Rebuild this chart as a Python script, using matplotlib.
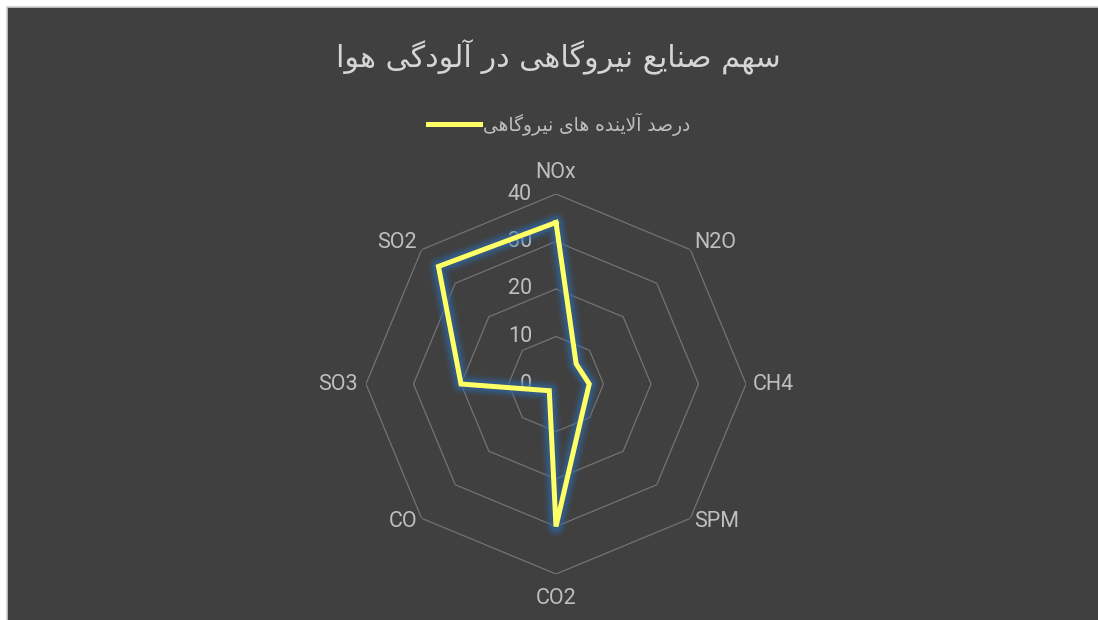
import numpy as np
import matplotlib
matplotlib.use("Agg")
import matplotlib.pyplot as plt
from matplotlib.patches import Rectangle
from matplotlib.lines import Line2D
from matplotlib.transforms import offset_copy

# ---- data -------------------------------------------------------------
categories = ["NOx", "N2O", "CH4", "SPM", "CO2", "CO", "SO3", "SO2"]
values = [34, 6, 7, 8, 30, 2, 20, 35]
ring_levels = [10, 20, 30, 40]
tick_labels = ["0", "10", "20", "30", "40"]
title_text = "سهم صنایع نیروگاهی در آلودگی هوا"
series_name = "درصد آلاینده های نیروگاهی"

# ---- minimal Persian shaping (presentation forms + RTL order) ---------
DUAL = {
    "ب": (0xFE8F, 0xFE90, 0xFE91, 0xFE92),
    "ت": (0xFE95, 0xFE96, 0xFE97, 0xFE98),
    "س": (0xFEB1, 0xFEB2, 0xFEB3, 0xFEB4),
    "ص": (0xFEB9, 0xFEBA, 0xFEBB, 0xFEBC),
    "ع": (0xFEC9, 0xFECA, 0xFECB, 0xFECC),
    "ل": (0xFEDD, 0xFEDE, 0xFEDF, 0xFEE0),
    "م": (0xFEE1, 0xFEE2, 0xFEE3, 0xFEE4),
    "ن": (0xFEE5, 0xFEE6, 0xFEE7, 0xFEE8),
    "ه": (0xFEE9, 0xFEEA, 0xFEEB, 0xFEEC),
    "ی": (0xFBFC, 0xFBFD, 0xFBFE, 0xFBFF),
    "گ": (0xFB92, 0xFB93, 0xFB94, 0xFB95),
}
RIGHT = {
    "ا": (0xFE8D, 0xFE8E),
    "آ": (0xFE81, 0xFE82),
    "د": (0xFEA9, 0xFEAA),
    "ر": (0xFEAD, 0xFEAE),
    "و": (0xFEED, 0xFEEE),
}
LAM_ALEF = {"ا": (0xFEFB, 0xFEFC), "آ": (0xFEF5, 0xFEF6)}


def shape_rtl(text):
    out = []
    n = len(text)
    i = 0
    while i < n:
        ch = text[i]
        prev = text[i - 1] if i > 0 else " "
        joins_prev = prev in DUAL and (ch in DUAL or ch in RIGHT)
        if ch == "ل" and i + 1 < n and text[i + 1] in LAM_ALEF:
            iso, fin = LAM_ALEF[text[i + 1]]
            out.append(chr(fin if joins_prev else iso))
            i += 2
            continue
        nxt = text[i + 1] if i + 1 < n else " "
        if ch in DUAL:
            joins_next = nxt in DUAL or nxt in RIGHT
            iso, fin, ini, med = DUAL[ch]
            if joins_prev and joins_next:
                out.append(chr(med))
            elif joins_prev:
                out.append(chr(fin))
            elif joins_next:
                out.append(chr(ini))
            else:
                out.append(chr(iso))
        elif ch in RIGHT:
            iso, fin = RIGHT[ch]
            out.append(chr(fin if joins_prev else iso))
        else:
            out.append(ch)
        i += 1
    return "".join(reversed(out))


# ---- figure -----------------------------------------------------------
W, H, DPI = 1098, 620, 100
fig = plt.figure(figsize=(W / DPI, H / DPI), dpi=DPI, facecolor="white")
fig.patches.append(Rectangle((6.5 / W, -0.01), 1.02, (613.5 / H) + 0.01,
                             transform=fig.transFigure, facecolor="#404040",
                             edgecolor="#D0D0D0", linewidth=1.2, zorder=-5))

cx, cy, R = 556, 384, 190
ax = fig.add_axes([(cx - R) / W, (H - cy - R) / H, 2 * R / W, 2 * R / H],
                  projection="polar")
ax.set_facecolor("none")
ax.set_theta_zero_location("N")
ax.set_theta_direction(-1)
ax.set_ylim(0, 40)
ax.grid(False)
ax.spines["polar"].set_visible(False)
ax.set_xticks([])
ax.set_yticks([])

n = len(categories)
theta = np.arange(n) * 2 * np.pi / n
theta_closed = np.append(theta, theta[0])

# octagonal grid rings
for lvl in ring_levels:
    ax.plot(theta_closed, [lvl] * (n + 1), color="#737373", lw=0.9, zorder=1)

# radial tick labels
tick_tr = offset_copy(ax.transData, fig=fig, x=-24, y=0, units="dots")
for lbl in tick_labels:
    ax.text(0, float(lbl), lbl, transform=tick_tr, ha="right", va="center",
            fontsize=15.5, color="#BFBFBF", family="Roboto", zorder=2)

# category labels around the outer ring
label_offsets = {
    "NOx": (0, 22, "center"), "N2O": (4, 7, "left"), "CH4": (7, 0, "left"),
    "SPM": (4, -3, "left"), "CO2": (0, -24, "center"), "CO": (-4, -3, "right"),
    "SO3": (-8, 0, "right"), "SO2": (-5, 7, "right"),
}
for th, cat in zip(theta, categories):
    dx, dy, ha = label_offsets[cat]
    tr = offset_copy(ax.transData, fig=fig, x=dx, y=dy, units="dots")
    ax.text(th, 40, cat, transform=tr, ha=ha, va="center", fontsize=15.5,
            color="#BFBFBF", family="Roboto", zorder=2)

# series with soft blue glow
vals_closed = values + values[:1]
for lw, a in [(15, 0.10), (12.5, 0.15), (10, 0.22), (7.5, 0.35)]:
    ax.plot(theta_closed, vals_closed, color="#2F69AA", lw=lw, alpha=a,
            solid_joinstyle="round", solid_capstyle="round", zorder=3)
ax.plot(theta_closed, vals_closed, color="#FFFF66", lw=3.6,
        solid_joinstyle="miter", zorder=4)

# title
fig.text(558 / W, 1 - 57 / H, shape_rtl(title_text), ha="center", va="center",
         fontsize=21.8, color="#D5D5D5", family="DejaVu Sans")

# legend
handle = Line2D([], [], color="#FFFF66", lw=3.6)
fig.legend([handle], [shape_rtl(series_name)], loc="center",
           bbox_to_anchor=(559 / W, 1 - 124 / H), frameon=False,
           handlelength=2.8, handletextpad=0.15,
           prop={"family": "DejaVu Sans", "size": 13.4},
           labelcolor="#BFBFBF")

fig.savefig("out.png", dpi=DPI, facecolor=fig.get_facecolor())
